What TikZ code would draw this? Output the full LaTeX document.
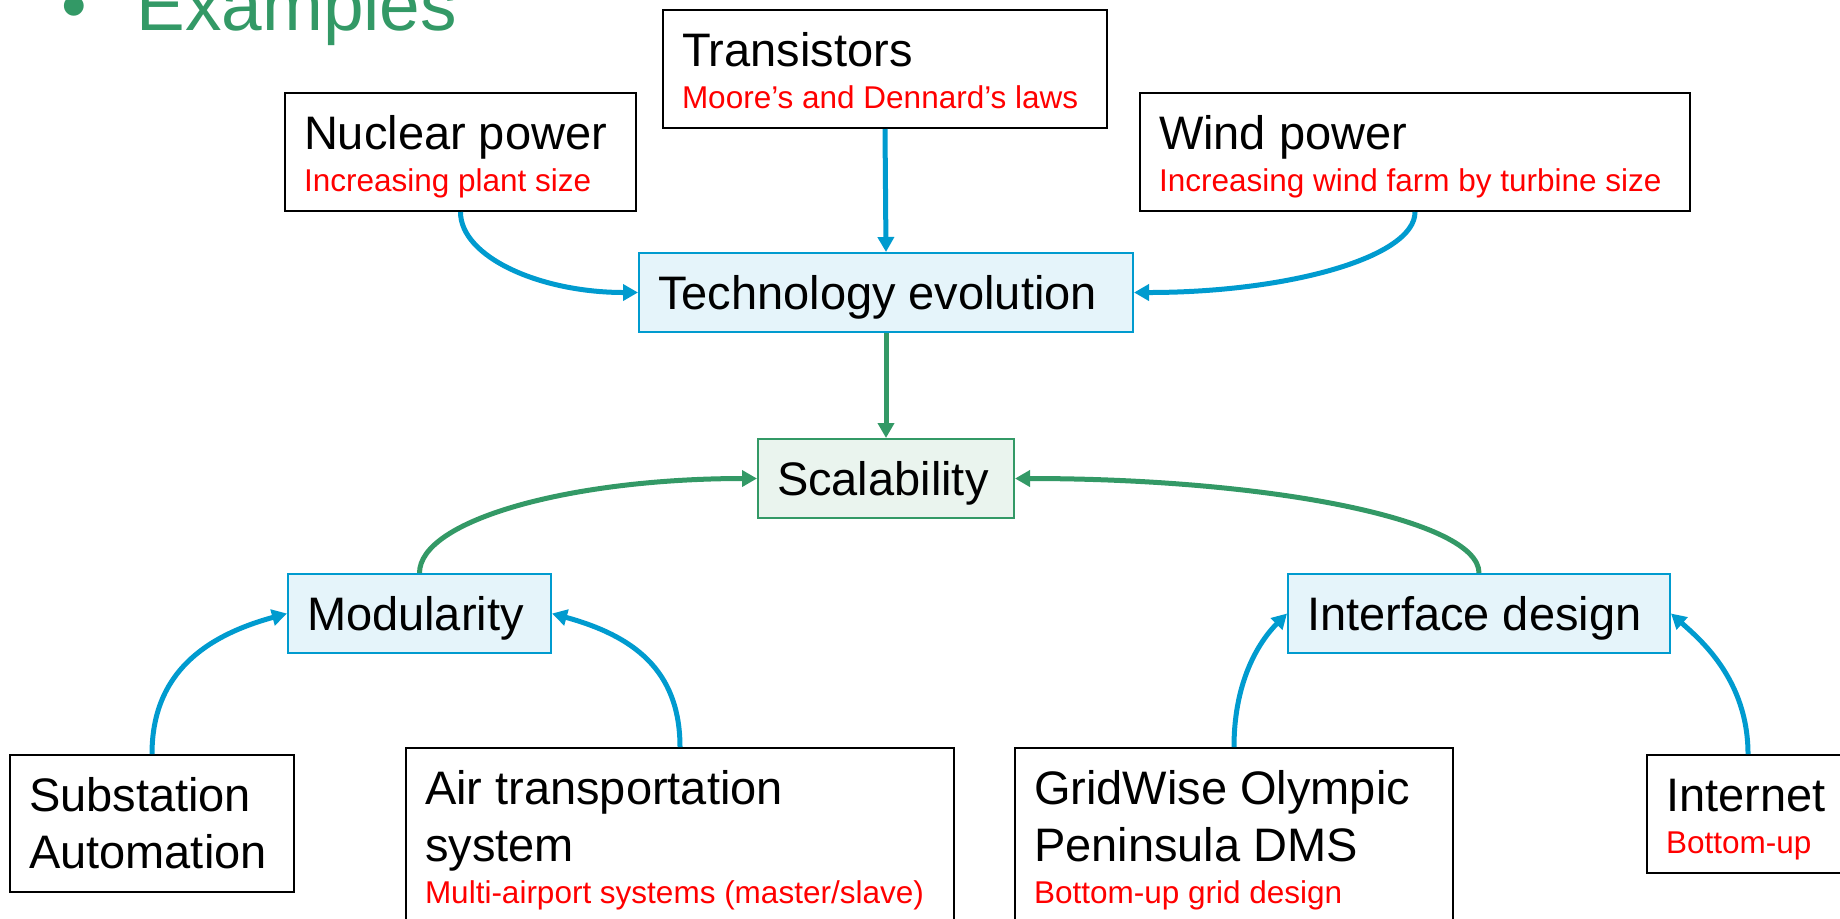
\documentclass[tikz,border=0pt]{standalone}
\usepackage{fontspec}
\setmainfont{Liberation Sans}
\usetikzlibrary{arrows.meta}
\definecolor{myblue}{RGB}{0,155,207}
\definecolor{mylightblue}{RGB}{229,244,250}
\definecolor{mygreen}{RGB}{51,153,102}
\definecolor{mylightgreen}{RGB}{234,244,238}
\definecolor{myred}{RGB}{255,0,0}
\newcommand{\topstrut}{\rule{0pt}{28pt}}
\newcommand{\mainend}{\rule[-11.5pt]{0pt}{11.5pt}}
\newcommand{\subtxt}[1]{\\[-7.75pt]{\color{myred}\fontsize{15.75pt}{19pt}\selectfont #1\rule[-10pt]{0pt}{10pt}}}
\hyphenpenalty=10000
\exhyphenpenalty=10000
\tikzset{
    common/.style={anchor=north west, draw, rectangle, line width=1pt, inner xsep=9.5pt, inner ysep=0pt, align=flush left, font=\fontsize{23.5pt}{28.75pt}\selectfont},
    plain/.style={common, draw=black, fill=white},
    evo/.style={common, draw=myblue, fill=mylightblue},
    goal/.style={common, draw=mygreen, fill=mylightgreen},
    link/.style={line width=2.5pt, -{Triangle[width=8pt, length=7.5pt]}},
    bluelink/.style={link, myblue},
    greenlink/.style={link, mygreen}
}

\begin{document}
\begin{tikzpicture}[x=0.5pt, y=-0.5pt]
    \path[use as bounding box, clip] (0,0) rectangle (1840,918);

    \node[anchor=base west, inner sep=0pt, mygreen, font=\fontsize{36.5pt}{44pt}\selectfont] (title) at (61,30) {\textbullet\hspace{24.75pt}Examples};

    \node[plain, text width=203pt] (transistors) at (662,9) {\topstrut Transistors\subtxt{Moore’s and Dennard’s laws}};
    \node[plain, text width=156.5pt] (nuclear) at (284,92) {\topstrut Nuclear power\subtxt{Increasing plant size}};
    \node[plain, text width=256pt] (wind) at (1139,92) {\topstrut Wind power\subtxt{Increasing wind farm by turbine size}};
    \node[evo, text width=228pt] (tech) at (638,252) {\topstrut Technology evolution\mainend};
    \node[goal, text width=109pt] (sca) at (757,438) {\topstrut Scalability\mainend};
    \node[evo, text width=112.5pt] (mod) at (287,573) {\topstrut Modularity\mainend};
    \node[evo, text width=172pt] (iface) at (1287,573) {\topstrut Interface design\mainend};
    \node[plain, text width=123pt] (subst) at (9,754) {\topstrut Substation\\Automation\mainend};
    \node[plain, text width=255pt] (air) at (405,747) {\topstrut Air transportation\\system\subtxt{Multi-airport systems (master/slave)}};
    \node[plain, text width=200pt] (grid) at (1014,747) {\topstrut GridWise Olympic\\Peninsula DMS\subtxt{Bottom-up grid design}};
    \node[plain, text width=82pt] (inet) at (1646,754) {\topstrut Internet\subtxt{Bottom-up}};

    \draw[bluelink] (transistors.south) -- (tech.north);
    \draw[bluelink] (nuclear.south) .. controls +(0,45) and +(-98,0) .. (tech.west);
    \draw[bluelink] (wind.south) .. controls +(0,45) and +(155,0) .. (tech.east);
    \draw[greenlink] (tech.south) -- (sca.north);
    \draw[greenlink] (mod.north) .. controls +(0,-53) and +(-186,0) .. (sca.west);
    \draw[greenlink] (iface.north) .. controls +(0,-53) and +(256,0) .. (sca.east);
    \draw[bluelink] (subst.north) .. controls +(0,-82) and +(-80,22) .. (mod.west);
    \draw[bluelink] (air.north) .. controls +(0,-78) and +(80,22) .. (mod.east);
    \draw[bluelink] (grid.north) .. controls +(0,-70) and +(-25,25) .. (iface.west);
    \draw[bluelink] (inet.north) .. controls +(0,-75) and +(28,25) .. (iface.east);
\end{tikzpicture}
\end{document}
